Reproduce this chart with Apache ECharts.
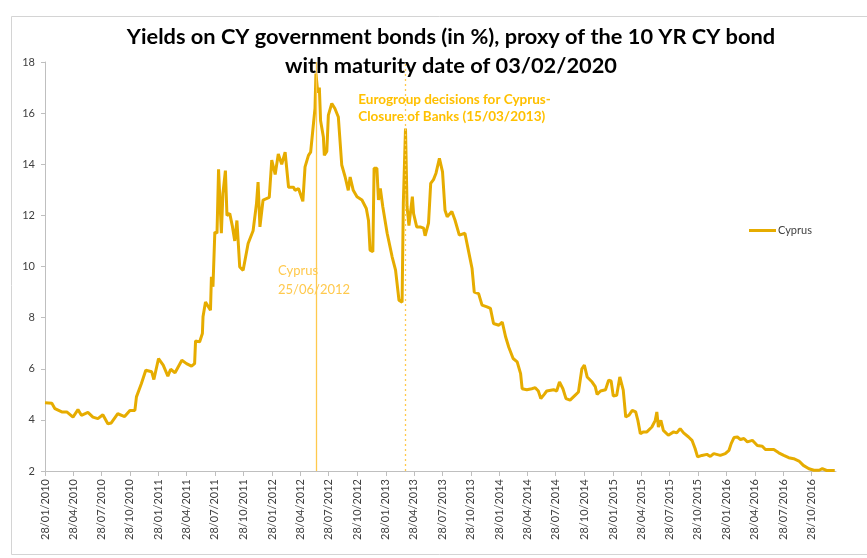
<!DOCTYPE html>
<html>
<head>
<meta charset="utf-8">
<script src="https://cdn.jsdelivr.net/npm/echarts@6/dist/echarts.min.js"></script>
<style>html,body{margin:0;padding:0;background:#fff}#c{width:867px;height:558px}</style>
</head>
<body>
<div id="c"></div>
<script>
const tickLabels = ['28/01/2010','28/04/2010','28/07/2010','28/10/2010','28/01/2011','28/04/2011','28/07/2011','28/10/2011',
'28/01/2012','28/04/2012','28/07/2012','28/10/2012','28/01/2013','28/04/2013','28/07/2013','28/10/2013',
'28/01/2014','28/04/2014','28/07/2014','28/10/2014','28/01/2015','28/04/2015','28/07/2015','28/10/2015',
'28/01/2016','28/04/2016','28/07/2016','28/10/2016'];

const dates = [
'2010-01-28','2010-02-19','2010-03-01','2010-03-23','2010-04-08','2010-04-28','2010-05-14','2010-05-25','2010-06-15','2010-07-01',
'2010-07-17','2010-08-02','2010-08-18','2010-08-29','2010-09-19','2010-10-11','2010-10-28','2010-11-13','2010-11-18','2010-12-04',
'2010-12-18','2011-01-06','2011-01-13','2011-01-28','2011-02-12','2011-02-27','2011-03-08','2011-03-22','2011-04-13','2011-04-28',
'2011-05-14','2011-05-24','2011-05-27','2011-06-09','2011-06-18','2011-06-20','2011-06-28','2011-07-14','2011-07-17','2011-07-22',
'2011-07-28','2011-08-04','2011-08-09','2011-08-18','2011-08-23','2011-08-31','2011-09-05','2011-09-14','2011-09-22','2011-09-30',
'2011-10-07','2011-10-16','2011-10-27','2011-11-12','2011-11-28','2011-12-09','2011-12-14','2011-12-20','2011-12-30','2012-01-19',
'2012-01-27','2012-02-07','2012-02-17','2012-02-28','2012-03-10','2012-03-21','2012-04-06','2012-04-11','2012-04-22','2012-05-06',
'2012-05-13','2012-05-24','2012-05-31','2012-06-07','2012-06-14','2012-06-17','2012-06-23','2012-06-28','2012-07-02','2012-07-11',
'2012-07-14','2012-07-22','2012-07-27','2012-08-07','2012-08-17','2012-08-28','2012-09-08','2012-09-19','2012-09-29','2012-10-05',
'2012-10-15','2012-10-27','2012-11-12','2012-11-26','2012-12-03','2012-12-08','2012-12-17','2012-12-21','2012-12-30','2013-01-04',
'2013-01-10','2013-01-18','2013-02-01','2013-02-17','2013-02-28','2013-03-11','2013-03-21','2013-03-25','2013-04-01','2013-04-06',
'2013-04-12','2013-04-23','2013-04-27','2013-05-07','2013-05-18','2013-05-29','2013-06-03','2013-06-14','2013-06-21','2013-06-30',
'2013-07-08','2013-07-19','2013-07-29','2013-08-06','2013-08-13','2013-08-28','2013-09-07','2013-09-21','2013-10-09','2013-10-20',
'2013-11-01','2013-11-08','2013-11-22','2013-12-03','2013-12-19','2013-12-30','2014-01-09','2014-01-26','2014-02-06','2014-02-17',
'2014-02-27','2014-03-13','2014-03-26','2014-04-06','2014-04-11','2014-04-26','2014-05-12','2014-05-23','2014-06-02','2014-06-10',
'2014-06-21','2014-06-29','2014-07-21','2014-07-31','2014-08-09','2014-08-20','2014-08-30','2014-09-12','2014-09-28','2014-10-09',
'2014-10-20','2014-10-28','2014-11-06','2014-11-22','2014-12-02','2014-12-08','2014-12-19','2015-01-04','2015-01-14','2015-01-22',
'2015-01-29','2015-02-09','2015-02-19','2015-02-25','2015-03-02','2015-03-10','2015-03-20','2015-03-31','2015-04-11','2015-04-18',
'2015-04-26','2015-05-06','2015-05-17','2015-06-02','2015-06-13','2015-06-18','2015-06-23','2015-07-01','2015-07-09','2015-07-25',
'2015-08-11','2015-08-21','2015-09-01','2015-09-12','2015-09-28','2015-10-09','2015-10-19','2015-10-27','2015-11-10','2015-11-26',
'2015-12-07','2015-12-18','2016-01-08','2016-01-24','2016-02-05','2016-02-12','2016-02-21','2016-03-03','2016-03-13','2016-03-24',
'2016-04-04','2016-04-20','2016-05-06','2016-05-22','2016-06-01','2016-06-18','2016-06-28','2016-07-14','2016-07-30','2016-08-15',
'2016-08-31','2016-09-17','2016-10-01','2016-10-19','2016-11-04','2016-11-21','2016-12-01','2016-12-15','2016-12-28','2017-01-10'
];

const cyprusYields = [
4.67,4.65,4.44,4.31,4.31,4.11,4.40,4.18,4.29,4.11,
4.05,4.20,3.85,3.88,4.24,4.13,4.37,4.37,4.90,5.42,
5.94,5.88,5.58,6.40,6.14,5.71,5.98,5.84,6.33,6.20,
6.10,6.20,7.09,7.05,7.38,8.03,8.61,8.29,9.60,9.21,
11.35,11.30,13.80,11.30,12.85,13.75,12.00,12.07,11.60,11.00,
11.80,9.98,9.85,10.90,11.40,12.47,13.30,11.55,12.60,12.70,
14.16,13.60,14.40,14.00,14.47,13.10,13.10,12.98,13.05,12.55,
13.90,14.35,14.47,15.33,16.18,17.55,16.80,17.00,15.70,15.07,
14.35,14.50,15.92,16.38,16.18,15.85,13.97,13.50,12.98,13.50,
12.98,12.73,12.60,12.27,11.80,10.64,10.58,13.84,13.84,12.60,
13.05,12.34,11.30,10.38,9.86,8.68,8.60,12.47,15.40,12.34,
11.60,12.73,12.07,11.55,11.55,11.50,11.20,11.70,13.25,13.40,
13.65,14.23,13.70,12.20,11.95,12.15,11.82,11.23,11.30,10.64,
9.92,9.00,8.94,8.49,8.42,8.36,7.77,7.70,7.83,7.24,
6.84,6.40,6.27,5.81,5.22,5.18,5.22,5.26,5.13,4.83,
5.00,5.13,5.18,5.13,5.48,5.22,4.83,4.77,4.96,5.09,
6.00,6.14,5.68,5.48,5.30,5.00,5.13,5.18,5.55,5.52,
4.93,4.96,5.68,5.75,5.16,4.11,4.18,4.37,4.31,3.98,
3.46,3.53,3.53,3.72,3.98,4.31,3.72,3.98,3.59,3.40,
3.53,3.49,3.66,3.49,3.33,3.20,2.88,2.55,2.61,2.65,
2.57,2.68,2.61,2.68,2.81,3.07,3.31,3.33,3.23,3.27,
3.14,3.20,3.00,2.97,2.84,2.84,2.84,2.71,2.61,2.52,
2.48,2.39,2.22,2.09,2.03,2.03,2.09,2.02,2.02,2.02
];

// event markers (vertical lines) as drawn in the picture
const eventDates = ['2012-06-19', '2013-04-01'];
const eventTexts = ['Cyprus\n25/06/2012', 'Eurogroup decisions for Cyprus-\nClosure of Banks (15/03/2013)'];
const eventLabelAnchors = [['2012-02-16', 10.2], ['2012-10-31', 16.85]];

const axisStart = '2010-01-28';
const axisEnd = '2017-01-14';

function parseDMY(s) {
  const p = s.split('/');
  return Date.UTC(+p[2], +p[1] - 1, +p[0]);
}
function parseYMD(s) {
  const p = s.split('-');
  return Date.UTC(+p[0], +p[1] - 1, +p[2]);
}
const tickValues = tickLabels.map(parseDMY);
const seriesData = dates.map((d, i) => [parseYMD(d), cyprusYields[i]]);

const gold = '#e6ac00';
const light = '#ffc000';
const FONT = 'Lato';

const chart = echarts.init(document.getElementById('c'), null, {renderer: 'canvas'});
chart.setOption({
  backgroundColor: '#fff',
  animation: false,
  textStyle: {fontFamily: FONT},
  title: {
    text: 'Yields on CY government bonds (in %), proxy of the 10 YR CY bond\nwith maturity date of 03/02/2020',
    left: 451, top: 22, padding: 0, textAlign: 'center',
    textStyle: {fontFamily: FONT, fontWeight: 'bold', fontSize: 21.8, color: '#000', lineHeight: 29}
  },
  legend: {
    left: 749, top: 225, padding: 0,
    icon: 'rect', itemWidth: 27, itemHeight: 3, itemGap: 5,
    textStyle: {fontFamily: FONT, fontSize: 11, color: '#404040', padding: [0, 0, 0, -3]},
    data: ['Cyprus']
  },
  grid: {left: 45, right: 31, top: 62, bottom: 87, outerBoundsMode: 'none'},
  xAxis: {
    type: 'value',
    min: parseYMD(axisStart), max: parseYMD(axisEnd),
    splitLine: {show: false},
    axisLine: {lineStyle: {color: '#bfbfbf', width: 1}},
    axisTick: {show: true, length: 5, lineStyle: {color: '#bfbfbf'}, customValues: tickValues},
    axisLabel: {
      customValues: tickValues,
      rotate: 90, margin: 8,
      fontFamily: FONT, fontSize: 11, color: '#404040',
      formatter: function (v) {
        const i = tickValues.indexOf(v);
        return i >= 0 ? tickLabels[i] : '';
      }
    }
  },
  yAxis: {
    type: 'value', min: 2, max: 18, interval: 2,
    splitLine: {show: false},
    axisLine: {show: true, lineStyle: {color: '#bfbfbf', width: 1}},
    axisTick: {show: true, length: 4, lineStyle: {color: '#bfbfbf'}},
    axisLabel: {fontFamily: FONT, fontSize: 11, color: '#404040', margin: 10}
  },
  series: [{
    name: 'Cyprus',
    type: 'line',
    data: seriesData,
    symbol: 'none',
    color: gold,
    lineStyle: {color: gold, width: 3},
    markLine: {
      silent: true, symbol: 'none', animation: false,
      label: {show: false},
      data: [
        {xAxis: parseYMD(eventDates[0]), lineStyle: {color: '#ffc94d', width: 1.3, type: 'solid'}},
        {xAxis: parseYMD(eventDates[1]), lineStyle: {color: '#ffc94d', width: 1.3, type: [2, 3]}}
      ]
    },
    markPoint: {
      silent: true, symbol: 'circle', symbolSize: 0,
      data: [
        {coord: [parseYMD(eventLabelAnchors[0][0]), eventLabelAnchors[0][1]],
         label: {show: true, position: 'inside', align: 'left', verticalAlign: 'top',
                 formatter: eventTexts[0], color: '#ffc94d', fontSize: 13, lineHeight: 19, fontFamily: FONT}},
        {coord: [parseYMD(eventLabelAnchors[1][0]), eventLabelAnchors[1][1]],
         label: {show: true, position: 'inside', align: 'left', verticalAlign: 'top',
                 formatter: eventTexts[1], color: light, fontSize: 13.5, fontWeight: 'bold', lineHeight: 17, fontFamily: FONT}}
      ]
    }
  }],
  graphic: [
    {type: 'rect', silent: true, shape: {x: 11.5, y: 16.5, width: 880, height: 538},
     style: {fill: 'none', stroke: '#d4d4d4', lineWidth: 1}}
  ]
});
</script>
</body>
</html>
